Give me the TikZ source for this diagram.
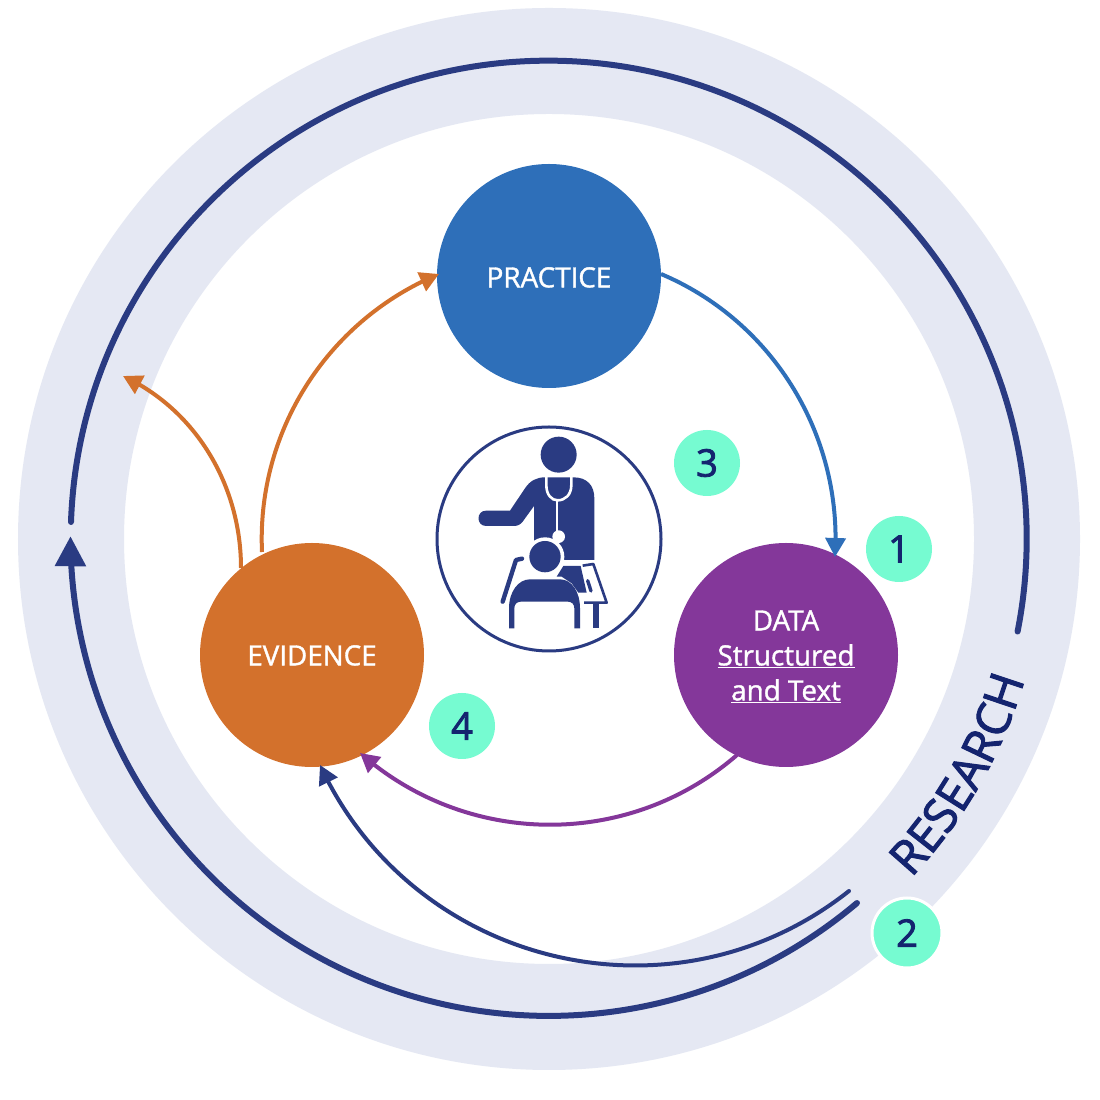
\documentclass[tikz,border=0pt]{standalone}
\usepackage{fontspec}
\setmainfont{Open Sans}
\newfontfamily\semif[FakeBold=1.3]{Open Sans}
\newfontfamily\heavyf[FakeBold=2.2]{Open Sans}
\usetikzlibrary{arrows.meta,bending,decorations.text}
\definecolor{ringc}{HTML}{E5E8F3}
\definecolor{navy}{HTML}{2A3B82}
\definecolor{pblue}{HTML}{2E6FB9}
\definecolor{dpurple}{HTML}{84379A}
\definecolor{eorange}{HTML}{D3712C}
\definecolor{mint}{HTML}{76FBD1}
\definecolor{digit}{HTML}{14246F}
\tikzset{
  bigcircle/.style={circle,minimum size=224pt,inner sep=0pt,text=white,align=center,font=\semif\fontsize{27.8}{35}\selectfont},
  badge/.style={circle,fill=mint,minimum size=66pt,inner sep=0pt,text=digit,font=\heavyf\fontsize{38}{38}\selectfont},
  tipS/.style={-{Triangle[length=19pt,width=20pt]}},
}
\begin{document}
\begin{tikzpicture}[x=1pt,y=1pt]
\useasboundingbox (0,0) rectangle (1100,1100);
\fill[white] (0,0) rectangle (1100,1100);
\coordinate (c) at (549,561);
% ring
\draw[ringc,line width=106pt] (c) circle[radius=478];
% research arcs
\coordinate (oa) at (71,578);
\coordinate (ob) at (857,197);
\draw[navy,line width=6pt,line cap=round] (oa) arc[start angle=178,end angle=-11.2,radius=478];
\draw[navy,line width=6pt,line cap=round,-{Triangle[length=30pt,width=30pt,flex=0]}] (ob) arc[start angle=-49.8,end angle=-180.2,radius=478];
% nodes
\node[bigcircle,fill=pblue,text height=23pt] (practice) at (549,824) {PRACTICE};
\node[bigcircle,fill=dpurple] (data) at (786,445) {\rule{0pt}{23pt}DATA\\\underline{Structured}\\\underline{and Text}};
\node[bigcircle,fill=eorange,text height=21pt] (evidence) at (312,445) {EVIDENCE};
% connectors
\coordinate (p1) at (661,826);
\coordinate (d1) at (835,543);
\coordinate (d2) at (737,345);
\coordinate (e1) at (360,347);
\coordinate (e2) at (262,548);
\coordinate (p2) at (439,826);
\coordinate (e3) at (241,532);
\coordinate (free) at (123,724);
\coordinate (r1) at (849,209);
\coordinate (e4) at (320,335);
\draw[pblue,line width=4pt,tipS] (p1) to[out=-22.9,in=86.4,looseness=0.936] (d1);
\draw[dpurple,line width=4pt,tipS] (d2) to[out=-139,in=-41.4,looseness=0.97] (e1);
\draw[eorange,line width=4pt,tipS] (e2) to[out=92.6,in=-157.5,looseness=0.936] (p2);
\draw[eorange,line width=4pt,tipS] (e3) to[out=90,in=-25,looseness=0.924] (free);
\draw[navy,line width=4pt,line cap=round,tipS] (r1) to[out=-141.6,in=-65.2,looseness=1.052] (e4);
% central circle
\node[circle,draw=navy,line width=3pt,fill=white,minimum size=224pt,inner sep=0pt] (icon) at (549,561) {};
% icon, in zoom-crop units
\begin{scope}[shift={(430,680)},x=0.33333pt,y=-0.33333pt]
  \fill[navy] (386,104) circle[radius=54];
  \fill[navy] (168,272) -- (240,272) -- (285,205) .. controls (300,182) and (320,172) .. (345,172)
     -- (430,172) .. controls (470,172) and (493,195) .. (493,235) -- (493,420) -- (400,420) -- (312,400)
     -- (312,258) -- (278,305) .. controls (270,315) and (262,318) .. (250,318) -- (168,318)
     .. controls (138,318) and (138,272) .. (168,272) -- cycle;
  \draw[white,line width=2.6pt] (349,170) -- (349,195) .. controls (349,225) and (365,241) .. (383,241)
     .. controls (405,241) and (424,225) .. (424,195) -- (424,170);
  \draw[white,line width=2.4pt] (381,240) -- (381,340);
  \fill[white] (386,350) circle[radius=19];
  \fill[white] (345,410) circle[radius=58];
  \fill[navy] (345,410) circle[radius=47];
  % desk
  \fill[navy] (380,470) -- (400,438) -- (452,438) -- (470,518) -- (445,518) -- (425,490) -- (395,470) -- cycle;
  \draw[navy,line width=2.6pt,line join=round] (458,437) -- (490,432) -- (530,548) -- (462,548);
  \fill[navy] (490,550) rectangle (507,625);
  \draw[navy,line width=3.4pt,line cap=round] (473,482) -- (483,513);
  % chair back
  \draw[navy,line width=4.4pt,line cap=round,line join=round] (218,545) -- (258,420) -- (276,416);
  % child body
  \fill[navy] (237,625) -- (237,565) .. controls (237,515) and (265,478) .. (300,478) -- (390,478)
     .. controls (425,478) and (450,515) .. (450,565) -- (450,625) -- (433,625) -- (433,565)
     .. controls (433,552) and (425,545) .. (413,545) -- (273,545)
     .. controls (261,545) and (253,552) .. (253,565) -- (253,625) -- cycle;
\end{scope}
% badges
\node[badge] (b1) at (899,551) {1};
\node[badge,draw=white,line width=3pt,minimum size=70pt] (b2) at (907,167) {2};
\node[badge] (b3) at (707,637) {3};
\node[badge] (b4) at (462,374) {4};
% curved label
\path[decorate,decoration={text along path,text align=center,
  text={|\heavyf\fontsize{47}{47}\selectfont\color{digit}|RESEARCH}}]
  (c) ++(-49.8:496) arc[start angle=-49.8,end angle=-9.8,radius=496];
\end{tikzpicture}
\end{document}
